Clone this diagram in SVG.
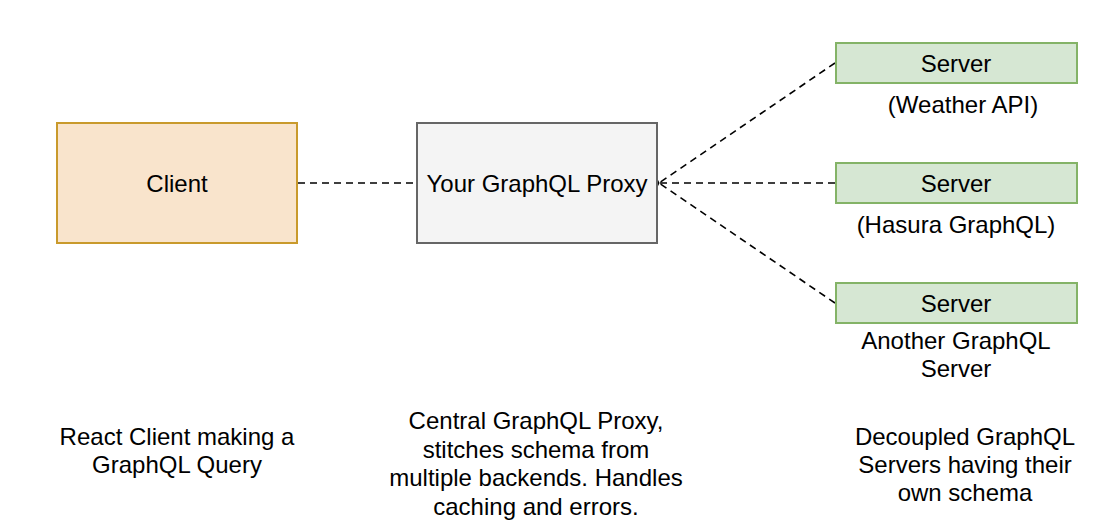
<svg xmlns="http://www.w3.org/2000/svg" width="1118" height="530" viewBox="0 0 1118 530">
  <style>
    text { font-family: "Liberation Sans", Arial, sans-serif; font-size: 24px; fill: #000; text-anchor: middle; }
    .client { fill: #f9e4cc; stroke: #c99a2c; stroke-width: 2; }
    .proxy { fill: #f4f4f4; stroke: #666666; stroke-width: 2; }
    .server { fill: #d6e7d3; stroke: #84b367; stroke-width: 2; }
    .conn { fill: none; stroke: #000; stroke-width: 1.6; stroke-dasharray: 7 5; }
  </style>
  <defs>
    <marker id="open" viewBox="0 0 10 10" refX="1" refY="5" markerWidth="6" markerHeight="6" orient="auto" markerUnits="userSpaceOnUse">
      <path d="M8,1 L1,5 L8,9" fill="none" stroke="#000" stroke-width="1.6"/>
    </marker>
  </defs>
  <rect width="1118" height="530" fill="#ffffff"/>

  <g id="connectors">
    <line class="conn" x1="298" y1="183" x2="416" y2="183"/>
    <line class="conn" x1="835" y1="63" x2="659" y2="183" marker-end="url(#open)"/>
    <line class="conn" x1="835" y1="183" x2="659" y2="183" marker-end="url(#open)"/>
    <line class="conn" x1="835" y1="303" x2="659" y2="183" marker-end="url(#open)"/>
  </g>

  <g id="client">
    <rect class="client" x="57" y="123" width="240" height="120"/>
    <text x="177" y="192">Client</text>
  </g>

  <g id="proxy">
    <rect class="proxy" x="417" y="123" width="240" height="120"/>
    <text x="537" y="192">Your GraphQL Proxy</text>
  </g>

  <g id="server1">
    <rect class="server" x="836" y="43" width="241" height="40"/>
    <text x="956" y="72">Server</text>
    <text x="963" y="113">(Weather API)</text>
  </g>

  <g id="server2">
    <rect class="server" x="836" y="163" width="241" height="40"/>
    <text x="956" y="192">Server</text>
    <text x="956" y="233">(Hasura GraphQL)</text>
  </g>

  <g id="server3">
    <rect class="server" x="836" y="283" width="241" height="40"/>
    <text x="956" y="312">Server</text>
    <text x="956" y="349">Another GraphQL</text>
    <text x="956" y="377">Server</text>
  </g>

  <g id="label-client">
    <text x="177" y="445">React Client making a</text>
    <text x="177" y="473">GraphQL Query</text>
  </g>

  <g id="label-proxy">
    <text x="536" y="429">Central GraphQL Proxy,</text>
    <text x="536" y="458">stitches schema from</text>
    <text x="536" y="486">multiple backends. Handles</text>
    <text x="536" y="515">caching and errors.</text>
  </g>

  <g id="label-servers">
    <text x="965" y="445">Decoupled GraphQL</text>
    <text x="965" y="473">Servers having their</text>
    <text x="965" y="501">own schema</text>
  </g>
</svg>
